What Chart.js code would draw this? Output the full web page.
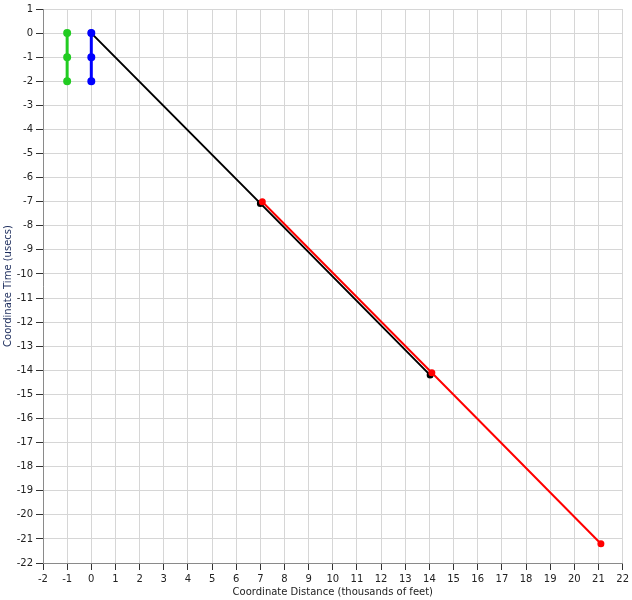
<!DOCTYPE html>
<html>
<head>
<meta charset="utf-8">
<script src="https://cdn.jsdelivr.net/npm/chart.js@4/dist/chart.umd.min.js"></script>
<style>
  body { margin: 0; background: #fff; }
  #wrap { width: 632px; height: 600px; }
</style>
</head>
<body>
<div id="wrap"><canvas id="chartContainer" width="632" height="600"></canvas></div>
<script>
"use strict";

// 1: data (thousands of feet, usecs)
let greenX = [-1, -1, -1];
let greenY = [0, -1, -2];
let blueX = [0, 0, 0];
let blueY = [0, -1, -2];
let blackX = [0, 7.0, 14.03];
let blackY = [0, -7.07, -14.2];
let redX = [7.08, 14.1, 21.1];
let redY = [-7.0, -14.1, -21.2];

// 2: prepare data for chart
function toPoints(xs, ys) {
  let pts = [];
  for (let i = 0; i < xs.length; i++) {
    pts.push({ x: xs[i], y: ys[i] });
  }
  return pts;
}

// 3: create the chart (first dataset is drawn on top)
function appendChart() {
  let font = { family: 'DejaVu Sans', size: 10 };
  let chartContainer = document.getElementById('chartContainer');
  new Chart(chartContainer, {
    type: 'scatter',
    data: {
      datasets: [{
        data: toPoints(redX, redY),
        borderColor: '#ff0000',
        backgroundColor: '#ff0000',
        borderWidth: 2,
        showLine: true
      },
      {
        data: toPoints(blueX, blueY),
        borderColor: '#0000ff',
        backgroundColor: '#0000ff',
        borderWidth: 3,
        showLine: true
      },
      {
        data: toPoints(greenX, greenY),
        borderColor: '#22cc22',
        backgroundColor: '#22cc22',
        borderWidth: 3,
        showLine: true
      },
      {
        data: toPoints(blackX, blackY),
        borderColor: '#000000',
        backgroundColor: '#000000',
        borderWidth: 2,
        showLine: true
      }]
    },
    options: {
      responsive: false,
      animation: false,
      layout: { padding: { left: 2, right: 7, top: 8, bottom: 2 } },
      elements: { point: { radius: 2.5, borderWidth: 0 } },
      plugins: { legend: { display: false }, tooltip: { enabled: false } },
      scales: {
        x: {
          type: 'linear',
          min: -2,
          max: 22,
          afterFit: function (s) { s.height = 35; },
          ticks: { stepSize: 1, color: '#222', font: font, padding: 3, maxRotation: 0, autoSkip: false },
          grid: { color: '#d6d6d6', tickColor: '#333', tickLength: 7 },
          border: { color: '#8a8a8a' },
          title: {
            display: true,
            text: 'Coordinate Distance (thousands of feet)',
            color: '#222',
            font: font,
            padding: { top: 1, bottom: 0 }
          }
        },
        y: {
          type: 'linear',
          min: -22,
          max: 1,
          afterFit: function (s) { s.width = 41; },
          ticks: { stepSize: 1, color: '#222', font: font, padding: 3, autoSkip: false },
          grid: { color: '#d6d6d6', tickColor: '#333', tickLength: 7 },
          border: { color: '#8a8a8a' },
          title: {
            display: true,
            text: 'Coordinate Time (usecs)',
            color: '#1c2c5c',
            font: font,
            padding: { top: 0, bottom: 0 }
          }
        }
      }
    }
  });
}

appendChart();
</script>
</body>
</html>
